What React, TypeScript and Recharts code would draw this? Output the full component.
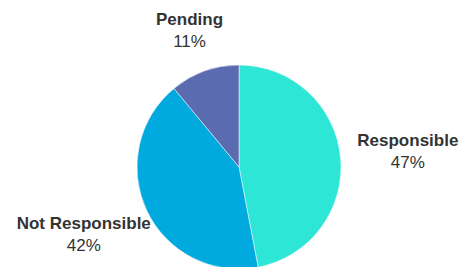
import { PieChart, Pie, Cell } from "recharts";

const categories = ["Responsible", "Not Responsible", "Pending"];
const shares = [47, 42, 11];
const colors = ["#2ee6d6", "#00aadf", "#5b6bb0"];

const data = categories.map((name, i) => ({ name, value: shares[i] }));

const RADIAN = Math.PI / 180;
const FONT = "'Liberation Sans', Arial, sans-serif";
const W = 469;
const H = 267;

interface LabelProps {
  cx: number;
  cy: number;
  midAngle: number;
  outerRadius: number;
  name: string;
  value: number;
}

function OuterLabel({ cx, cy, midAngle, outerRadius, name, value }: LabelProps) {
  const cos = Math.cos(midAngle * RADIAN);
  const sin = Math.sin(midAngle * RADIAN);
  // rough text box size for bold 17px
  const w = name.length * 9.3;
  const h = 34;
  const dist = outerRadius + 17 + (w / 2) * Math.abs(cos) + (h / 2) * Math.abs(sin);
  let x = cx + dist * cos;
  let y = cy - dist * sin;
  // keep the block inside the chart
  x = Math.max(14 + w / 2, Math.min(W - 10 - w / 2, x));
  y = Math.min(H - 33, y);
  return (
    <g fontFamily={FONT} fontSize={17} fill="#333">
      <text x={x} y={y - 5} textAnchor="middle" fontWeight="bold">
        {name}
      </text>
      <text x={x} y={y + 17} textAnchor="middle">
        {value}%
      </text>
    </g>
  );
}

export default function App() {
  return (
    <div style={{ position: "fixed", top: 0, left: 0, background: "#fff" }}>
      <PieChart width={W} height={H} margin={{ top: 0, right: 0, bottom: 0, left: 0 }}>
        <Pie
          data={data}
          dataKey="value"
          nameKey="name"
          cx={239}
          cy={167}
          outerRadius={102}
          startAngle={90}
          endAngle={-270}
          stroke="#fff"
          strokeWidth={0.5}
          labelLine={false}
          label={(p: any) => <OuterLabel {...p} />}
          isAnimationActive={false}
        >
          {data.map((d, i) => (
            <Cell key={d.name} fill={colors[i]} />
          ))}
        </Pie>
      </PieChart>
    </div>
  );
}
